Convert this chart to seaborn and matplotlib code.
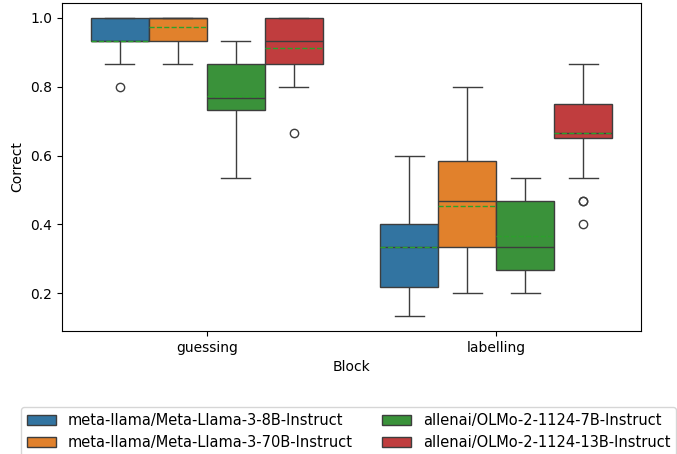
import matplotlib
matplotlib.use("Agg")
import matplotlib.pyplot as plt
import seaborn as sns
import pandas as pd

# Number of items per run (scores are counts correct out of 15)
N_ITEMS = 15

blocks = ["guessing", "labelling"]
models = [
    "meta-llama/Meta-Llama-3-8B-Instruct",
    "meta-llama/Meta-Llama-3-70B-Instruct",
    "allenai/OLMo-2-1124-7B-Instruct",
    "allenai/OLMo-2-1124-13B-Instruct",
]

# counts correct (out of 15)
llama8b_guessing = [12, 13, 14, 14, 14, 14, 15, 15, 15]
llama70b_guessing = [13, 14, 14, 14, 14, 15, 15, 15, 15, 15, 15, 15, 15, 15, 15, 15]
olmo7b_guessing = [8, 10, 11, 11, 11, 12, 13, 13, 13, 14]
olmo13b_guessing = [10, 12, 13, 13, 14, 14, 14, 14, 15, 15, 15, 15]

llama8b_labelling = [2, 3, 3, 4, 5, 5, 6, 6, 7, 9]
llama70b_labelling = [3, 3, 5, 5, 7, 7, 8, 9, 9, 12]
olmo7b_labelling = [3, 4, 4, 4, 5, 5, 7, 7, 8, 8]
olmo13b_labelling = [6, 7, 7, 8, 9, 10, 10, 10, 10, 10, 10, 10, 10, 11, 11, 12, 12, 12, 12, 13]

series = {
    ("guessing", models[0]): llama8b_guessing,
    ("guessing", models[1]): llama70b_guessing,
    ("guessing", models[2]): olmo7b_guessing,
    ("guessing", models[3]): olmo13b_guessing,
    ("labelling", models[0]): llama8b_labelling,
    ("labelling", models[1]): llama70b_labelling,
    ("labelling", models[2]): olmo7b_labelling,
    ("labelling", models[3]): olmo13b_labelling,
}

rows = []
for (blk, mdl), vals in series.items():
    for v in vals:
        rows.append({"Block": blk, "Model": mdl, "Correct": v / N_ITEMS})
df = pd.DataFrame(rows)

fig = plt.figure(figsize=(6.77, 4.54), dpi=100)
ax = fig.add_axes([62 / 677, 1 - 331 / 454, 579 / 677, 328 / 454])

sns.boxplot(data=df, x="Block", y="Correct", hue="Model", order=blocks,
            hue_order=models, showmeans=True, meanline=True, ax=ax)

handles, labels = ax.get_legend_handles_labels()
if ax.get_legend() is not None:
    ax.get_legend().remove()
fig.legend(handles, labels, loc="upper left", ncol=2,
           bbox_to_anchor=(21 / 677, 1 - 407 / 454),
           bbox_transform=fig.transFigure, frameon=True,
           fontsize=10.5, borderaxespad=0)

fig.savefig("out.png", dpi=100)
